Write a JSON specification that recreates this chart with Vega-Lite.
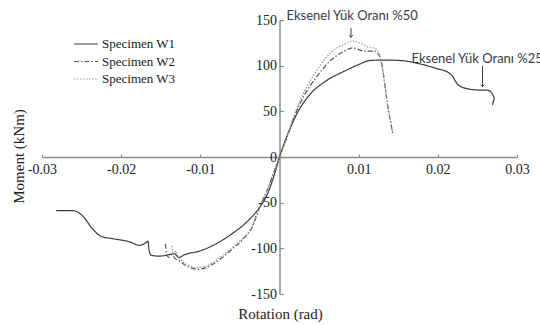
{
  "$schema": "https://vega.github.io/schema/vega-lite/v6.json",
  "width": 475,
  "height": 274,
  "autosize": "none",
  "padding": {"left": 42, "top": 20, "right": 23, "bottom": 31},
  "background": "white",
  "config": {"view": {"stroke": null}},
  "encoding": {
    "x": {
      "field": "x", "type": "quantitative",
      "scale": {"domain": [-0.03, 0.03], "nice": false, "zero": false},
      "axis": {
        "title": "Rotation (rad)", "orient": "bottom", "offset": -137,
        "values": [-0.03, -0.02, -0.01, 0.01, 0.02, 0.03],
        "labelExpr": "(datum.value < 0 ? '-' : '') + format(abs(datum.value), '.2f')",
        "grid": false, "domainColor": "#8c8c8c", "domainWidth": 1.5,
        "tickColor": "#8c8c8c", "tickSize": -3, "tickWidth": 1.2, "labelPadding": 8,
        "labelFont": "Liberation Serif", "labelFontSize": 14, "labelColor": "#222",
        "labelFlush": false, "labelOverlap": false,
        "titleFont": "Liberation Serif", "titleFontSize": 15, "titleFontWeight": "normal",
        "titleColor": "#222", "titleX": 238, "titleY": 156, "titleBaseline": "middle", "titleAlign": "center"
      }
    },
    "y": {
      "field": "y", "type": "quantitative",
      "scale": {"domain": [-150, 150], "nice": false, "zero": false},
      "axis": {
        "title": "Moment (kNm)", "orient": "left", "offset": -237.5,
        "values": [-150, -100, -50, 0, 50, 100, 150],
        "labelExpr": "(datum.value < 0 ? '-' : '') + abs(datum.value)",
        "grid": false, "domainColor": "#8c8c8c", "domainWidth": 1.5,
        "tickColor": "#8c8c8c", "tickSize": -4, "tickWidth": 1.2, "labelPadding": 7,
        "labelFont": "Liberation Serif", "labelFontSize": 14, "labelColor": "#222",
        "labelFlush": false, "labelOverlap": false,
        "titleFont": "Liberation Serif", "titleFontSize": 15, "titleFontWeight": "normal",
        "titleColor": "#222", "titleX": -261.5, "titleY": 136, "titleAngle": -90,
        "titleBaseline": "middle", "titleAlign": "center"
      }
    }
  },
  "layer": [
    {
      "data": {"values": [
        {"s": "Specimen W1", "i": 1, "x": -0.0282, "y": -58.7},
        {"s": "Specimen W1", "i": 2, "x": -0.0261, "y": -58.7},
        {"s": "Specimen W1", "i": 3, "x": -0.0248, "y": -65},
        {"s": "Specimen W1", "i": 4, "x": -0.0236, "y": -79},
        {"s": "Specimen W1", "i": 5, "x": -0.0225, "y": -87},
        {"s": "Specimen W1", "i": 6, "x": -0.021, "y": -89.5},
        {"s": "Specimen W1", "i": 7, "x": -0.0189, "y": -93},
        {"s": "Specimen W1", "i": 8, "x": -0.0177, "y": -96.7},
        {"s": "Specimen W1", "i": 9, "x": -0.0169, "y": -94},
        {"s": "Specimen W1", "i": 10, "x": -0.0166, "y": -92},
        {"s": "Specimen W1", "i": 11, "x": -0.0165, "y": -101},
        {"s": "Specimen W1", "i": 12, "x": -0.0162, "y": -107.6},
        {"s": "Specimen W1", "i": 13, "x": -0.0152, "y": -108.5},
        {"s": "Specimen W1", "i": 14, "x": -0.0143, "y": -107.6},
        {"s": "Specimen W1", "i": 15, "x": -0.0133, "y": -106},
        {"s": "Specimen W1", "i": 16, "x": -0.0127, "y": -110},
        {"s": "Specimen W1", "i": 17, "x": -0.012, "y": -107},
        {"s": "Specimen W1", "i": 18, "x": -0.0101, "y": -103},
        {"s": "Specimen W1", "i": 19, "x": -0.008, "y": -95},
        {"s": "Specimen W1", "i": 20, "x": -0.006, "y": -84},
        {"s": "Specimen W1", "i": 21, "x": -0.004, "y": -70},
        {"s": "Specimen W1", "i": 22, "x": -0.0025, "y": -55},
        {"s": "Specimen W1", "i": 23, "x": -0.0015, "y": -40},
        {"s": "Specimen W1", "i": 24, "x": -0.0005, "y": -15},
        {"s": "Specimen W1", "i": 25, "x": 0, "y": 0},
        {"s": "Specimen W1", "i": 26, "x": 0.001, "y": 24},
        {"s": "Specimen W1", "i": 27, "x": 0.0023, "y": 49},
        {"s": "Specimen W1", "i": 28, "x": 0.0039, "y": 69},
        {"s": "Specimen W1", "i": 29, "x": 0.006, "y": 84},
        {"s": "Specimen W1", "i": 30, "x": 0.0082, "y": 94},
        {"s": "Specimen W1", "i": 31, "x": 0.0102, "y": 102},
        {"s": "Specimen W1", "i": 32, "x": 0.0113, "y": 105.5},
        {"s": "Specimen W1", "i": 33, "x": 0.0125, "y": 106},
        {"s": "Specimen W1", "i": 34, "x": 0.014, "y": 106},
        {"s": "Specimen W1", "i": 35, "x": 0.0155, "y": 105.5},
        {"s": "Specimen W1", "i": 36, "x": 0.0177, "y": 102},
        {"s": "Specimen W1", "i": 37, "x": 0.0198, "y": 97},
        {"s": "Specimen W1", "i": 38, "x": 0.0214, "y": 92},
        {"s": "Specimen W1", "i": 39, "x": 0.0219, "y": 88},
        {"s": "Specimen W1", "i": 40, "x": 0.0223, "y": 82},
        {"s": "Specimen W1", "i": 41, "x": 0.0229, "y": 77},
        {"s": "Specimen W1", "i": 42, "x": 0.0248, "y": 73.5},
        {"s": "Specimen W1", "i": 43, "x": 0.0263, "y": 73},
        {"s": "Specimen W1", "i": 44, "x": 0.0269, "y": 69},
        {"s": "Specimen W1", "i": 45, "x": 0.0272, "y": 64},
        {"s": "Specimen W1", "i": 46, "x": 0.0269, "y": 57},

        {"s": "Specimen W2", "i": 1, "x": -0.0144, "y": -95},
        {"s": "Specimen W2", "i": 2, "x": -0.0143, "y": -105},
        {"s": "Specimen W2", "i": 3, "x": -0.014, "y": -110},
        {"s": "Specimen W2", "i": 4, "x": -0.0136, "y": -107},
        {"s": "Specimen W2", "i": 5, "x": -0.0132, "y": -111},
        {"s": "Specimen W2", "i": 6, "x": -0.0126, "y": -114},
        {"s": "Specimen W2", "i": 7, "x": -0.012, "y": -118},
        {"s": "Specimen W2", "i": 8, "x": -0.011, "y": -122},
        {"s": "Specimen W2", "i": 9, "x": -0.0103, "y": -123},
        {"s": "Specimen W2", "i": 10, "x": -0.009, "y": -120},
        {"s": "Specimen W2", "i": 11, "x": -0.0075, "y": -112},
        {"s": "Specimen W2", "i": 12, "x": -0.006, "y": -101},
        {"s": "Specimen W2", "i": 13, "x": -0.0046, "y": -90},
        {"s": "Specimen W2", "i": 14, "x": -0.0034, "y": -76},
        {"s": "Specimen W2", "i": 15, "x": -0.0025, "y": -55},
        {"s": "Specimen W2", "i": 16, "x": -0.0015, "y": -35},
        {"s": "Specimen W2", "i": 17, "x": -0.0007, "y": -17},
        {"s": "Specimen W2", "i": 18, "x": 0, "y": 0},
        {"s": "Specimen W2", "i": 19, "x": 0.0008, "y": 18},
        {"s": "Specimen W2", "i": 20, "x": 0.0019, "y": 45},
        {"s": "Specimen W2", "i": 21, "x": 0.0031, "y": 67},
        {"s": "Specimen W2", "i": 22, "x": 0.0048, "y": 89},
        {"s": "Specimen W2", "i": 23, "x": 0.0065, "y": 106},
        {"s": "Specimen W2", "i": 24, "x": 0.0082, "y": 116},
        {"s": "Specimen W2", "i": 25, "x": 0.0092, "y": 119.5},
        {"s": "Specimen W2", "i": 26, "x": 0.0107, "y": 116},
        {"s": "Specimen W2", "i": 27, "x": 0.0121, "y": 116},
        {"s": "Specimen W2", "i": 28, "x": 0.0126, "y": 111},
        {"s": "Specimen W2", "i": 29, "x": 0.013, "y": 98},
        {"s": "Specimen W2", "i": 30, "x": 0.0136, "y": 60},
        {"s": "Specimen W2", "i": 31, "x": 0.0143, "y": 26},

        {"s": "Specimen W3", "i": 1, "x": -0.0136, "y": -97},
        {"s": "Specimen W3", "i": 2, "x": -0.0134, "y": -107},
        {"s": "Specimen W3", "i": 3, "x": -0.0131, "y": -103},
        {"s": "Specimen W3", "i": 4, "x": -0.0129, "y": -108},
        {"s": "Specimen W3", "i": 5, "x": -0.0124, "y": -113},
        {"s": "Specimen W3", "i": 6, "x": -0.0116, "y": -118},
        {"s": "Specimen W3", "i": 7, "x": -0.0106, "y": -121},
        {"s": "Specimen W3", "i": 8, "x": -0.0095, "y": -120},
        {"s": "Specimen W3", "i": 9, "x": -0.008, "y": -113},
        {"s": "Specimen W3", "i": 10, "x": -0.0065, "y": -103},
        {"s": "Specimen W3", "i": 11, "x": -0.005, "y": -92},
        {"s": "Specimen W3", "i": 12, "x": -0.0036, "y": -78},
        {"s": "Specimen W3", "i": 13, "x": -0.0026, "y": -56},
        {"s": "Specimen W3", "i": 14, "x": -0.0016, "y": -37},
        {"s": "Specimen W3", "i": 15, "x": -0.0008, "y": -18},
        {"s": "Specimen W3", "i": 16, "x": 0, "y": 0},
        {"s": "Specimen W3", "i": 17, "x": 0.0008, "y": 19},
        {"s": "Specimen W3", "i": 18, "x": 0.0019, "y": 47},
        {"s": "Specimen W3", "i": 19, "x": 0.0031, "y": 71},
        {"s": "Specimen W3", "i": 20, "x": 0.0048, "y": 96},
        {"s": "Specimen W3", "i": 21, "x": 0.0065, "y": 114.5},
        {"s": "Specimen W3", "i": 22, "x": 0.0082, "y": 123.5},
        {"s": "Specimen W3", "i": 23, "x": 0.0092, "y": 127},
        {"s": "Specimen W3", "i": 24, "x": 0.0105, "y": 123.5},
        {"s": "Specimen W3", "i": 25, "x": 0.0113, "y": 120},
        {"s": "Specimen W3", "i": 26, "x": 0.0121, "y": 119},
        {"s": "Specimen W3", "i": 27, "x": 0.0126, "y": 112.5},
        {"s": "Specimen W3", "i": 28, "x": 0.013, "y": 97},
        {"s": "Specimen W3", "i": 29, "x": 0.0136, "y": 60},
        {"s": "Specimen W3", "i": 30, "x": 0.0143, "y": 27}
      ]},
      "mark": {"type": "line", "strokeWidth": 1.2, "interpolate": "monotone"},
      "encoding": {
        "order": {"field": "i", "type": "quantitative"},
        "color": {
          "field": "s", "type": "nominal",
          "scale": {"domain": ["Specimen W1", "Specimen W2", "Specimen W3"], "range": ["#3a3a3a", "#555555", "#9a9a9a"]},
          "legend": {
            "title": null, "orient": "none", "legendX": 35.5, "legendY": 15.5,
            "symbolType": "M-1.6,0H1.6", "symbolSize": 225, "symbolStrokeWidth": 1.2,
            "labelFont": "Liberation Serif", "labelFontSize": 13, "labelColor": "#222",
            "labelOffset": 7.5, "rowPadding": 1.5
          }
        },
        "strokeDash": {
          "field": "s", "type": "nominal",
          "scale": {"domain": ["Specimen W1", "Specimen W2", "Specimen W3"], "range": [[1, 0], [5, 2, 1.5, 2], [1.5, 1.5]]},
          "legend": {
            "title": null, "orient": "none", "legendX": 35.5, "legendY": 15.5,
            "symbolType": "M-1.6,0H1.6", "symbolSize": 225, "symbolStrokeWidth": 1.2,
            "labelFont": "Liberation Serif", "labelFontSize": 13, "labelColor": "#222",
            "labelOffset": 7.5, "rowPadding": 1.5
          }
        }
      }
    },
    {
      "data": {"values": [
        {"x": 0.00903, "y": 141, "y2": 131},
        {"x": 0.02564, "y": 100, "y2": 77}
      ]},
      "mark": {"type": "rule", "color": "#333c48", "strokeWidth": 1},
      "encoding": {"y2": {"field": "y2"}}
    },
    {
      "data": {"values": [
        {"x": 0.00903, "y": 131},
        {"x": 0.02564, "y": 77}
      ]},
      "mark": {"type": "point", "shape": "M-1,-1.2L0,0L1,-1.2", "size": 12, "filled": false, "color": "#333c48", "strokeWidth": 1, "opacity": 1}
    },
    {
      "data": {"values": [
        {"label": "Eksenel Yük Oranı %50", "x": 0.00088, "y": 150},
        {"label": "Eksenel Yük Oranı %25", "x": 0.01667, "y": 103}
      ]},
      "mark": {"type": "text", "align": "left", "baseline": "alphabetic", "font": "Lato", "fontSize": 13, "color": "#333c48"},
      "encoding": {"text": {"field": "label"}}
    }
  ]
}
